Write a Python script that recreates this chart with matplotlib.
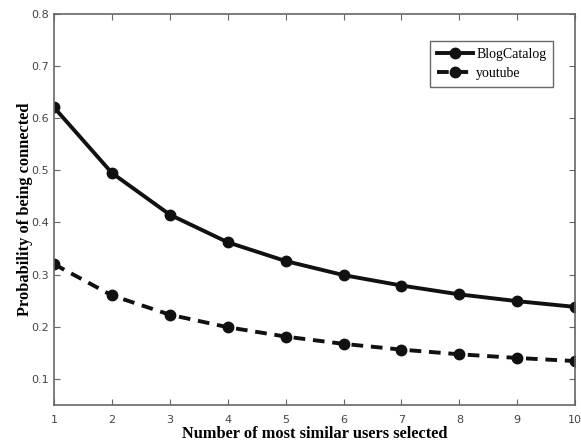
import matplotlib
matplotlib.use('Agg')
import matplotlib.pyplot as plt

# dados
k = [1, 2, 3, 4, 5, 6, 7, 8, 9, 10]
blogcatalog = [0.621, 0.495, 0.415, 0.362, 0.326, 0.299, 0.279, 0.262, 0.249, 0.238]
youtube = [0.320, 0.260, 0.223, 0.199, 0.181, 0.167, 0.156, 0.147, 0.140, 0.134]
yticks = [0.1, 0.2, 0.3, 0.4, 0.5, 0.6, 0.7, 0.8]

fig = plt.figure(figsize=(5.81, 4.41), dpi=100)
ax = fig.add_axes([0.093, 0.082, 0.897, 0.886])

ax.plot(k, blogcatalog, '-', color='#111111', lw=2.8, marker='o', ms=7.5, label='BlogCatalog')
ax.plot(k, youtube, '--', color='#111111', lw=2.8, marker='o', ms=7.5, dashes=(3, 2), label='youtube')

ax.set_xlim(1, 10)
ax.set_ylim(0.05, 0.8)
ax.set_xticks(k)
ax.set_yticks(yticks)
ax.set_yticklabels([str(v) for v in yticks])
ax.tick_params(direction='in', top=True, right=True, labelsize=8, labelcolor='#444444',
               color='#666666', length=4)
ax.tick_params(axis='x', pad=7)
for s in ax.spines.values():
    s.set_color('#666666')
    s.set_linewidth(1.2)

ax.set_xlabel('Number of most similar users selected', fontsize=11.8, fontweight='bold',
              family='Liberation Serif', labelpad=1)
ax.set_ylabel('Probability of being connected', fontsize=11.8, fontweight='bold',
              family='Liberation Serif')
ax.yaxis.set_label_coords(-0.041, 0.5)

leg = ax.legend(loc='upper right', bbox_to_anchor=(0.958, 0.931), borderaxespad=0,
                prop={'family': 'Liberation Serif', 'size': 10},
                fancybox=False, edgecolor='#444444', handlelength=2.6, borderpad=0.5, labelspacing=0.45,
                handletextpad=0.2)
leg.get_frame().set_linewidth(1.0)

fig.savefig('out.png', dpi=100)
